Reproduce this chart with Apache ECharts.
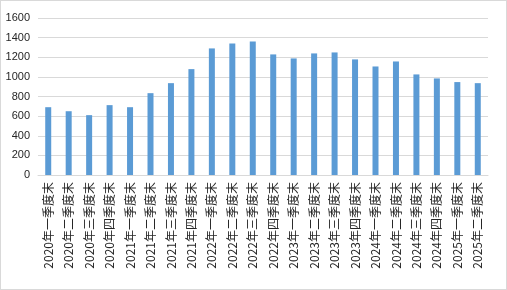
<!DOCTYPE html>
<html><head><meta charset="utf-8">
<script src="https://cdn.jsdelivr.net/npm/echarts@6/dist/echarts.min.js"></script>
<style>html,body{margin:0;padding:0;background:#fff}#c{position:absolute;left:0;top:0;width:505px;height:288px;border:1px solid #d9d9d9}</style>
</head><body><div id="c"></div>
<script>
const categories = ["2020年一季度末","2020年二季度末","2020年三季度末","2020年四季度末","2021年一季度末","2021年二季度末","2021年三季度末","2021年四季度末","2022年一季度末","2022年二季度末","2022年三季度末","2022年四季度末","2023年一季度末","2023年二季度末","2023年三季度末","2023年四季度末","2024年一季度末","2024年二季度末","2024年三季度末","2024年四季度末","2025年一季度末","2025年二季度末"];
const values = [691,650,610,712,691,834,936,1079,1290,1341,1361,1229,1188,1239,1249,1178,1106,1157,1025,984,947,936];
const yTicks = {min:0,max:1600,interval:200};
const chart = echarts.init(document.getElementById('c'), null, {renderer:'canvas'});
chart.setOption({
  animation:false,
  grid:{left:37,right:18,top:17,bottom:114},
  xAxis:{type:'category',data:categories,
    axisLine:{lineStyle:{color:'#d9d9d9'}},axisTick:{show:false},
    axisLabel:{rotate:90,interval:0,color:'#262626',fontSize:12,fontFamily:'Noto Sans CJK SC',margin:7}},
  yAxis:{type:'value',min:yTicks.min,max:yTicks.max,interval:yTicks.interval,
    axisLine:{show:false},axisTick:{show:false},
    splitLine:{lineStyle:{color:'#d9d9d9'}},
    axisLabel:{color:'#262626',fontSize:11,fontFamily:'Liberation Sans',margin:8,formatter:function(v){return String(v);}}},
  series:[{type:'bar',data:values,barWidth:6,itemStyle:{color:'#5b9bd5'}}]
});
</script></body></html>
